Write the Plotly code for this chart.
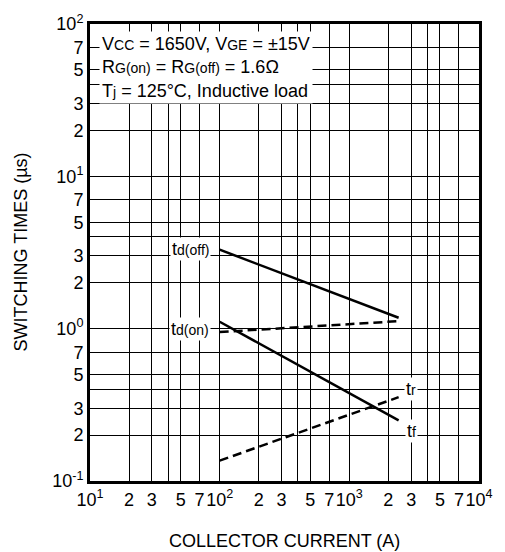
import math
import plotly.graph_objects as go

# Data (collector current in A, switching time in µs)
ic_range = [100, 2400]
td_off = [3.3, 1.18]
td_on = [0.95, 1.12]
t_f = [1.11, 0.25]
t_r = [0.136, 0.355]

x_tickvals = [10, 20, 30, 40, 50, 70, 100, 200, 300, 400, 500, 700, 1000,
              2000, 3000, 4000, 5000, 7000, 10000]
x_ticktext = ["10<sup>1</sup>", "2", "3", "", "5", "7", "10<sup>2</sup>", "2", "3", "", "5", "7",
              "10<sup>3</sup>", "2", "3", "", "5", "7", "10<sup>4</sup>"]
y_tickvals = [0.1, 0.2, 0.3, 0.4, 0.5, 0.7, 1, 2, 3, 4, 5, 7, 10, 20, 30, 40, 50, 70, 100]
y_ticktext = ["10<sup>-1</sup>", "2", "3", "", "5", "7", "10<sup>0</sup>", "2", "3", "", "5", "7",
              "10<sup>1</sup>", "2", "3", "", "5", "7", "10<sup>2</sup>"]

FONT = "Liberation Sans, Arial, Helvetica, sans-serif"
FS = 18
sm = "font-size:14px"

fig = go.Figure()
fig.add_trace(go.Scatter(x=ic_range, y=td_off, mode="lines",
                         line=dict(color="black", width=2.5), showlegend=False))
fig.add_trace(go.Scatter(x=ic_range, y=td_on, mode="lines",
                         line=dict(color="black", width=2.5, dash="9px,5px"), showlegend=False))
fig.add_trace(go.Scatter(x=ic_range, y=t_f, mode="lines",
                         line=dict(color="black", width=2.5), showlegend=False))
fig.add_trace(go.Scatter(x=ic_range, y=t_r, mode="lines",
                         line=dict(color="black", width=2.5, dash="9px,5px"), showlegend=False))

axis_common = dict(type="log", showgrid=True, gridcolor="black", gridwidth=1,
                   showline=True, linecolor="black", linewidth=3, mirror=True,
                   ticks="", zeroline=False, tickangle=0,
                   tickfont=dict(family=FONT, size=FS, color="black"))
fig.update_xaxes(range=[1, 4], tickmode="array", tickvals=x_tickvals, ticktext=x_ticktext, **axis_common)
fig.update_yaxes(range=[-1, 2], tickmode="array", tickvals=y_tickvals, ticktext=y_ticktext, **axis_common)

cond = (f"V<span style='{sm}'>CC</span> = 1650V, V<span style='{sm}'>GE</span> = \u00b115V<br>"
        f"R<span style='{sm}'>G(on)</span> = R<span style='{sm}'>G(off)</span> = 1.6\u03a9<br>"
        f"T<span style='{sm}'>j</span> = 125\u00b0C, Inductive load")
fig.add_annotation(xref="paper", yref="paper", x=0.022, y=0.984, xanchor="left", yanchor="top",
                   text=cond, showarrow=False, align="left", bgcolor="white",
                   font=dict(family=FONT, size=FS, color="black"), borderpad=2)

labels = [
    (86, 3.35, f"t<span style='{sm}'>d(off)</span>", "right"),
    (86, 1.0, f"t<span style='{sm}'>d(on)</span>", "right"),
    (3000, 0.40, f"t<span style='{sm}'>r</span>", "center"),
    (3000, 0.213, f"t<span style='{sm}'>f</span>", "center"),
]
for lx, ly, lt, anc in labels:
    fig.add_annotation(x=math.log10(lx), y=math.log10(ly), text=lt, showarrow=False, xanchor=anc,
                       bgcolor="white", font=dict(family=FONT, size=FS, color="black"), borderpad=1)

fig.add_annotation(xref="paper", yref="paper", x=0.5, y=0, yshift=-60, xanchor="center", yanchor="middle",
                   text="COLLECTOR CURRENT (A)", showarrow=False,
                   font=dict(family=FONT, size=FS, color="black"))
fig.add_annotation(xref="paper", yref="paper", x=0, y=0.5, xshift=-70, xanchor="center", yanchor="middle",
                   text="SWITCHING TIMES (\u00b5s)", showarrow=False, textangle=-90,
                   font=dict(family=FONT, size=FS, color="black"))

fig.update_layout(width=505, height=552, margin=dict(l=90, r=14, t=14, b=71),
                  paper_bgcolor="white", plot_bgcolor="white")
fig.write_html("out.html")
